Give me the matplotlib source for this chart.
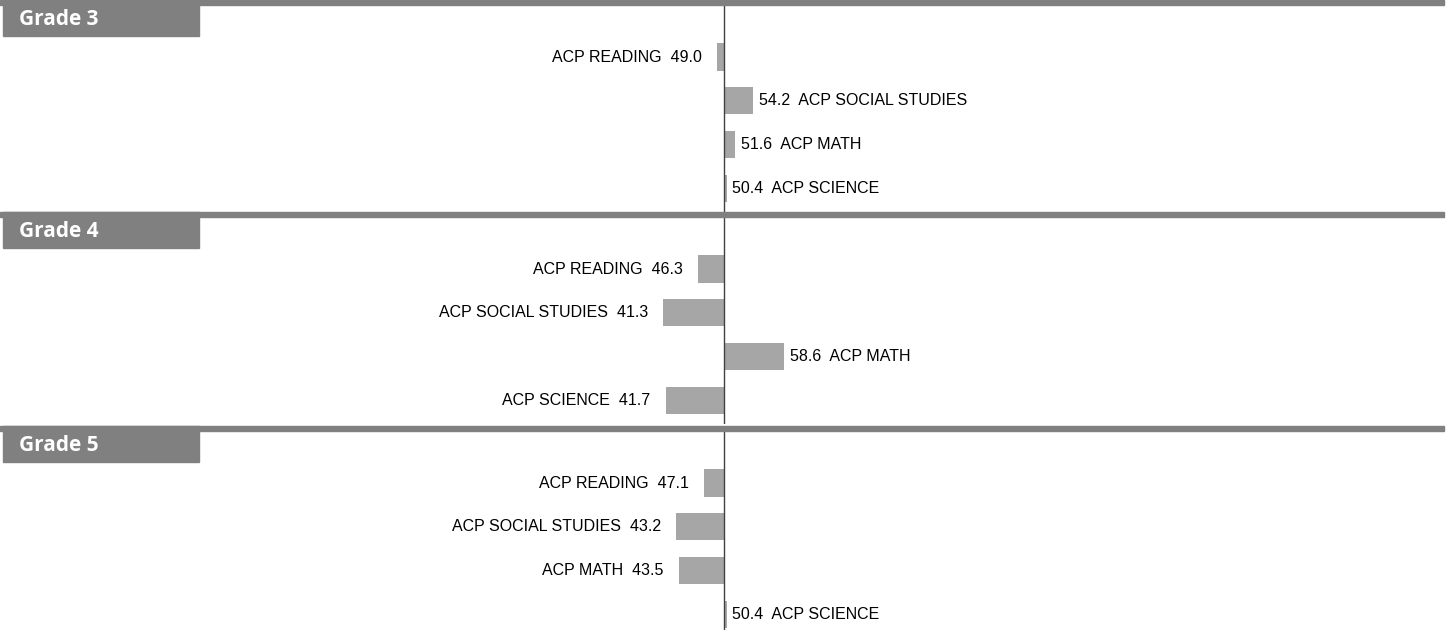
import numpy as np
import matplotlib
matplotlib.use('Agg')
import matplotlib.pyplot as plt
from matplotlib.patches import Rectangle

grades = ['Grade 3', 'Grade 4', 'Grade 5']
subjects_g3 = ['ACP READING', 'ACP SOCIAL STUDIES', 'ACP MATH', 'ACP SCIENCE']
subjects_g4 = ['ACP READING', 'ACP SOCIAL STUDIES', 'ACP MATH', 'ACP SCIENCE']
subjects_g5 = ['ACP READING', 'ACP SOCIAL STUDIES', 'ACP MATH', 'ACP SCIENCE']
scores_g3 = [49.0, 54.2, 51.6, 50.4]
scores_g4 = [46.3, 41.3, 58.6, 41.7]
scores_g5 = [47.1, 43.2, 43.5, 50.4]
center = 50.0

W, H = 1452, 630
fig = plt.figure(figsize=(W / 100, H / 100), dpi=100)
fig.patch.set_facecolor('white')

panel_tops = [0, 212, 426]
panel_h = 212
px_per_unit = 7.0
center_px = 724
row0, row_step = 57, 43.7

all_subj = [subjects_g3, subjects_g4, subjects_g5]
all_vals = [scores_g3, scores_g4, scores_g5]

for g, top, subj, vals in zip(grades, panel_tops, all_subj, all_vals):
    h = min(panel_h, H - top)
    ax = fig.add_axes([0, 1 - (top + h) / H, 1, h / H])
    ax.set_axis_off()
    ax.set_xlim(center - center_px / px_per_unit, center + (W - center_px) / px_per_unit)
    ax.set_ylim((h - row0) / row_step, -row0 / row_step)

    y = np.arange(len(vals))
    v = np.array(vals)
    ax.barh(y, v - center, left=center, height=0.62, color='#a6a6a6', zorder=2)
    ax.axvline(center, ymin=0, ymax=1 - 5 / h, color='#404040', lw=1, zorder=3)

    for yi, name, val in zip(y, subj, vals):
        if val < center:
            ax.annotate(f'{name}  {val:.1f}', (val, yi), xytext=(-11, 0),
                        textcoords='offset points', ha='right', va='center',
                        fontsize=11.5, family='Liberation Sans', color='black')
        else:
            ax.annotate(f'{val:.1f}  {name}', (val, yi), xytext=(4, 0),
                        textcoords='offset points', ha='left', va='center',
                        fontsize=11.5, family='Liberation Sans', color='black')

    # header: line across and gray label box
    fig.patches.append(Rectangle((0, 1 - (top + 4.7) / H), 1444 / W, 4.7 / H,
                                 transform=fig.transFigure, color='#808080', zorder=5))
    fig.patches.append(Rectangle((3 / W, 1 - (top + 36) / H), 196 / W, 36 / H,
                                 transform=fig.transFigure, color='#808080', zorder=5))
    fig.text(19 / W, 1 - (top + 19.5) / H, g, ha='left', va='center', color='white',
             fontsize=15, fontweight='bold', family='Open Sans', zorder=6)

plt.savefig('out.png', dpi=100)
